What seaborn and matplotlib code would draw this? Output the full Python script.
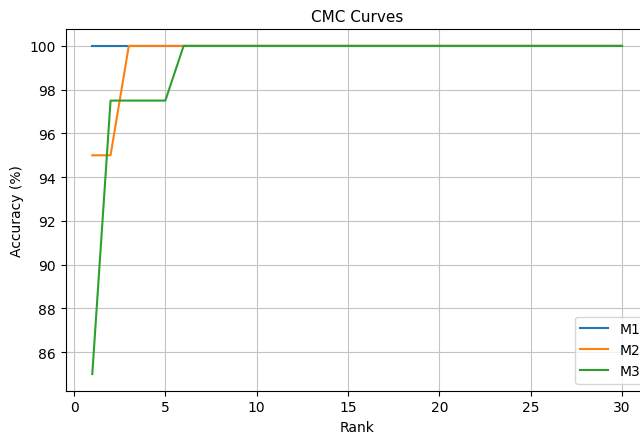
import matplotlib
matplotlib.use("Agg")
import matplotlib.pyplot as plt
import pandas as pd
import seaborn as sns

ranks = list(range(1, 31))
m1 = [100.0] * 30
m2 = [95.0, 95.0] + [100.0] * 28
m3 = [85.0, 97.5, 97.5, 97.5, 97.5] + [100.0] * 25
models = ["M1", "M2", "M3"]

df = pd.concat(
    [pd.DataFrame({"Rank": ranks, "Accuracy": vals, "Model": name})
     for name, vals in zip(models, [m1, m2, m3])],
    ignore_index=True,
)

fig = plt.figure(figsize=(6.4, 4.35), dpi=100)
ax = fig.add_axes([0.1028, 0.1, 0.9105, 0.8299])
sns.lineplot(data=df, x="Rank", y="Accuracy", hue="Model", ax=ax,
             palette=["#1f77b4", "#ff7f0e", "#2ca02c"], linewidth=1.5)
ax.set_title("CMC Curves", fontsize=11)
ax.set_xlabel("Rank")
ax.set_ylabel("Accuracy (%)")
ax.grid(True, color="#c4c4c4", linewidth=0.8)
ax.legend(loc="lower right", bbox_to_anchor=(1.007, 0.0))
fig.savefig("out.png", dpi=100)
